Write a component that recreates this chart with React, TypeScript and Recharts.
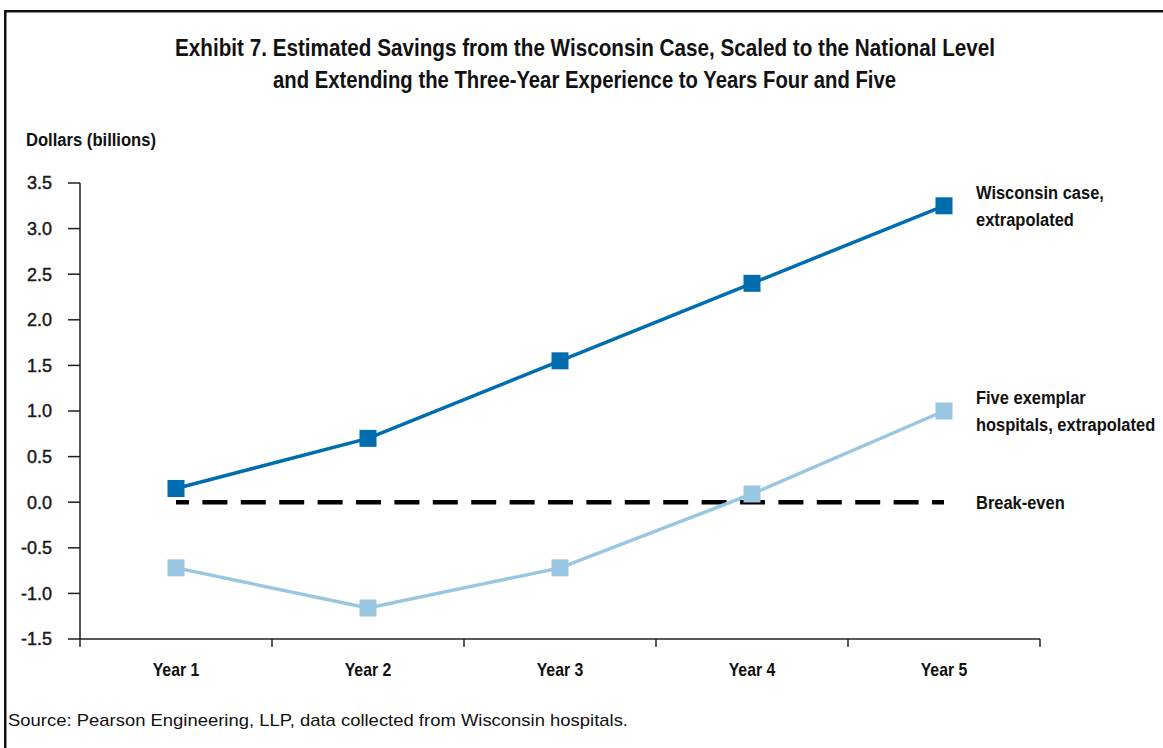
import React from 'react';
import { LineChart, Line, XAxis, YAxis } from 'recharts';

const categories = ['Year 1', 'Year 2', 'Year 3', 'Year 4', 'Year 5'];
const wisconsinCase = [0.15, 0.7, 1.55, 2.4, 3.25];
const fiveExemplar = [-0.72, -1.16, -0.72, 0.09, 1.0];
const breakEven = [0, 0, 0, 0, 0];
const yTicks = [-1.5, -1, -0.5, 0, 0.5, 1, 1.5, 2, 2.5, 3, 3.5];
const wisconsinLabel = ['Wisconsin case,', 'extrapolated'];
const exemplarLabel = ['Five exemplar', 'hospitals, extrapolated'];
const breakEvenLabel = ['Break-even'];
const titleLines = [
  'Exhibit 7. Estimated Savings from the Wisconsin Case, Scaled to the National Level',
  'and Extending the Three-Year Experience to Years Four and Five',
];
const yAxisTitle = 'Dollars (billions)';
const sourceNote = 'Source: Pearson Engineering, LLP, data collected from Wisconsin hospitals.';

const data = categories.map((year, i) => ({
  year,
  wisconsin: wisconsinCase[i],
  exemplar: fiveExemplar[i],
  breakEven: breakEven[i],
}));

const SANS = "'Liberation Sans', Arial, sans-serif";
const DARK_BLUE = '#006DAE';
const LIGHT_BLUE = '#99C6E0';
const AXIS = '#1e1e1e';
const TEXT = '#111';
const COND = 0.88;

const CondText = ({ x, y, children, size = 18, anchor = 'start', weight = 'bold' }: any) => (
  <text
    transform={`translate(${x},${y}) scale(${COND},1)`}
    textAnchor={anchor}
    fill={TEXT}
    fontFamily={SANS}
    fontWeight={weight}
    fontSize={size}
  >
    {children}
  </text>
);

const XTick = (props: any) => {
  const { x, y, payload, index, width } = props;
  const half = payload && payload.offset ? payload.offset : width / categories.length / 2;
  return (
    <g>
      <line x1={x - half} x2={x - half} y1={y} y2={y + 8} stroke={AXIS} strokeWidth={1.5} />
      {index === categories.length - 1 && (
        <line x1={x + half} x2={x + half} y1={y} y2={y + 8} stroke={AXIS} strokeWidth={1.5} />
      )}
      <CondText x={x} y={y + 37} anchor="middle">
        {payload.value}
      </CondText>
    </g>
  );
};

const makeDot = (color: string) => (props: any) => {
  const { cx, cy, index } = props;
  if (cx == null || cy == null) return <g key={index} />;
  return <rect key={index} x={cx - 8.5} y={cy - 8.5} width={17} height={17} fill={color} />;
};

const makeEndLabel = (lines: string[]) => (props: any) => {
  const { x, y, index } = props;
  if (index !== categories.length - 1) return null;
  const lh = 27;
  const start = y - ((lines.length - 1) * lh) / 2 + 6.7;
  return (
    <g>
      {lines.map((l, i) => (
        <CondText key={i} x={x + 32} y={start + i * lh} size={18.7}>
          {l}
        </CondText>
      ))}
    </g>
  );
};

export default function App() {
  return (
    <div style={{ position: 'absolute', left: 0, top: 0, width: 1163, height: 748, overflow: 'hidden', background: '#fff' }}>
      <div style={{ position: 'absolute', left: 0, top: 0 }}>
        <LineChart width={1163} height={748} data={data} margin={{ top: 183, right: 123, bottom: 49, left: 0 }}>
          <XAxis
            dataKey="year"
            scale="band"
            height={60}
            tickLine={false}
            tickSize={0}
            tickMargin={0}
            interval={0}
            axisLine={{ stroke: AXIS, strokeWidth: 1.5 }}
            tick={<XTick />}
          />
          <YAxis
            type="number"
            width={80}
            domain={[-1.5, 3.5]}
            ticks={yTicks}
            interval={0}
            tickSize={12}
            tickMargin={16}
            tickFormatter={(v: number) => v.toFixed(1)}
            axisLine={{ stroke: AXIS, strokeWidth: 1.5 }}
            tickLine={{ stroke: AXIS, strokeWidth: 1.5 }}
            tick={{ fill: '#1a1a1a', stroke: '#1a1a1a', strokeWidth: 0.45, fontSize: 18, fontFamily: SANS }}
          />
          <Line
            dataKey="breakEven"
            stroke="#000"
            strokeWidth={4.5}
            strokeDasharray="25 13.4"
            strokeDashoffset={12}
            strokeLinecap="butt"
            dot={false}
            activeDot={false}
            isAnimationActive={false}
            label={makeEndLabel(breakEvenLabel)}
          />
          <Line
            dataKey="exemplar"
            stroke={LIGHT_BLUE}
            strokeWidth={3.5}
            dot={makeDot(LIGHT_BLUE)}
            activeDot={false}
            isAnimationActive={false}
            label={makeEndLabel(exemplarLabel)}
          />
          <Line
            dataKey="wisconsin"
            stroke={DARK_BLUE}
            strokeWidth={3.5}
            dot={makeDot(DARK_BLUE)}
            activeDot={false}
            isAnimationActive={false}
            label={makeEndLabel(wisconsinLabel)}
          />
        </LineChart>
      </div>
      <svg
        width={1163}
        height={748}
        style={{ position: 'absolute', left: 0, top: 0, pointerEvents: 'none' }}
      >
        <path d="M5.25 760 V11.25 H1170" fill="none" stroke="#111" strokeWidth={2.5} />
        <text
          x={585}
          y={55.5}
          textAnchor="middle"
          textLength={820}
          lengthAdjust="spacingAndGlyphs"
          fill={TEXT}
          fontFamily={SANS}
          fontWeight="bold"
          fontSize={24}
        >
          {titleLines[0]}
        </text>
        <text
          x={584.5}
          y={87.5}
          textAnchor="middle"
          textLength={623}
          lengthAdjust="spacingAndGlyphs"
          fill={TEXT}
          fontFamily={SANS}
          fontWeight="bold"
          fontSize={24}
        >
          {titleLines[1]}
        </text>
        <text
          x={26}
          y={145.5}
          textLength={130}
          lengthAdjust="spacingAndGlyphs"
          fill={TEXT}
          fontFamily={SANS}
          fontWeight="bold"
          fontSize={18}
        >
          {yAxisTitle}
        </text>
        <text
          x={8}
          y={726}
          textLength={620}
          lengthAdjust="spacingAndGlyphs"
          fill={TEXT}
          fontFamily={SANS}
          fontSize={17}
        >
          {sourceNote}
        </text>
      </svg>
    </div>
  );
}
